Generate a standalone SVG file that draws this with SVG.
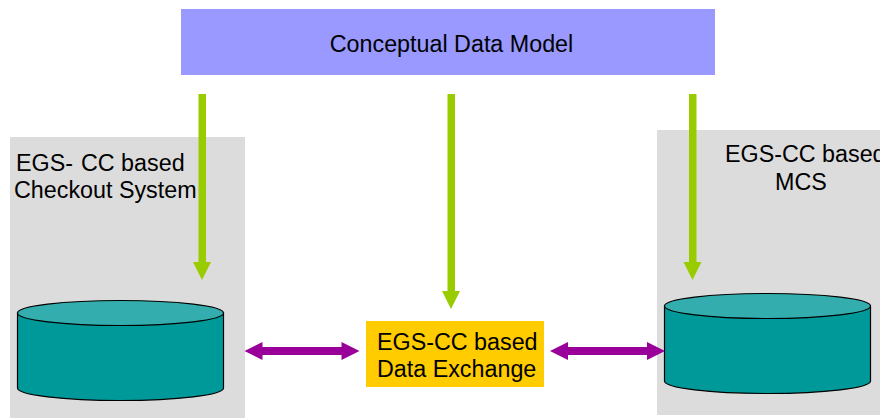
<svg xmlns="http://www.w3.org/2000/svg" width="880" height="418" viewBox="0 0 880 418">
<style>
text{font-family:"Liberation Sans",Arial,sans-serif;font-size:23.3px;fill:#000}
.panel{fill:#dcdcdc}
.body{fill:#009999;stroke:#000;stroke-width:1.2}
.top{fill:#33adad;stroke:#000;stroke-width:1.2}
.green{fill:#99cc00}
.purple{fill:#990099}
</style>
<rect width="880" height="418" fill="#fff"/>
<g id="left-system">
<rect class="panel" x="10" y="137" width="235" height="281"/>
<text x="16" y="171">EGS-</text><text x="81" y="171">CC based</text>
<text x="14" y="198">Checkout System</text>
</g>
<g id="right-system">
<rect class="panel" x="657" y="130" width="223" height="285"/>
<text x="725" y="162">EGS-CC based</text>
<text x="775" y="190">MCS</text>
</g>
<g id="conceptual-model">
<rect x="181" y="9" width="534" height="66" fill="#9999ff"/>
<text x="451.500" y="52" text-anchor="middle">Conceptual Data Model</text>
</g>
<g id="left-store">
<path class="body" d="M17.500 313V388C17.500 395 64 400.500 120.500 400.500S223.500 395 223.500 388V313Z"/>
<ellipse class="top" cx="120.500" cy="313" rx="103" ry="12.500"/>
</g>
<g id="right-store">
<path class="body" d="M664.500 306V381C664.500 388 711 393.500 767.500 393.500S870.500 388 870.500 381V306Z"/>
<ellipse class="top" cx="767.500" cy="306" rx="103" ry="12.500"/>
</g>
<g id="data-exchange">
<rect x="366" y="321" width="178" height="66" fill="#ffcc00"/>
<text x="377" y="350">EGS-CC based</text>
<text x="377" y="377">Data Exchange</text>
</g>
<g id="connectors">
<path class="green" d="M198.500 94h7.500v168h5l-9 18-9-18h5.500z"/>
<path class="green" d="M447.500 94h7.500v197h5l-9 18-9-18h5.500z"/>
<path class="green" d="M689 94h7.500v168h5l-9 18-9-18h5.500z"/>
<path class="purple" d="M244.500 351l18-9v5h79v-5l18 9-18 9v-5h-79v5z"/>
<path class="purple" d="M550 351l18-9v5h79v-5l18 9-18 9v-5h-79v5z"/>
</g>
</svg>
